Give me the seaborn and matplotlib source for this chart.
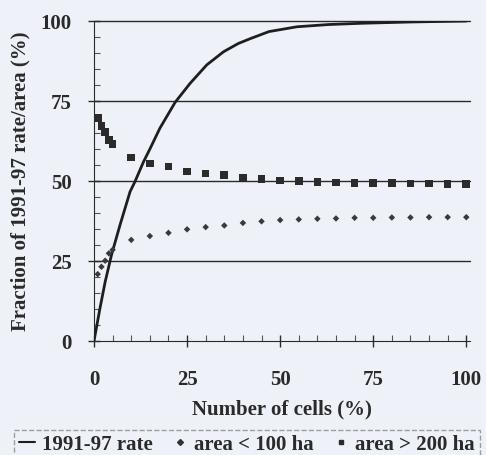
import numpy as np
import pandas as pd
import matplotlib
matplotlib.use("Agg")
import matplotlib.pyplot as plt
from matplotlib.lines import Line2D
from matplotlib.ticker import MultipleLocator
import seaborn as sns

# 1991-97 rate curve
rate_x = [0, 1.6, 3, 4.7, 7, 9.7, 11, 13.3, 15.1, 17.7, 21.8, 25.8, 30.3, 34.8, 38.8,
          42, 47, 54.5, 63, 72, 85, 100]
rate_y = [0, 10.2, 18.5, 26.9, 36.3, 46.7, 49.8, 56, 60.2, 66.5, 74.6, 80.5, 86.3, 90.4, 93,
          94.5, 96.7, 98.2, 98.9, 99.3, 99.7, 100]

# point series
pts_x = [1, 2, 3, 4, 5, 10, 15, 20, 25, 30, 35, 40, 45, 50, 55, 60, 65, 70, 75, 80, 85, 90, 95, 100]
small_area = [20.9, 23.2, 25.1, 27.4, 28.5, 31.6, 32.8, 33.8, 34.9, 35.6, 36.1, 36.9, 37.4,
              37.8, 38.0, 38.2, 38.3, 38.5, 38.5, 38.6, 38.6, 38.7, 38.7, 38.7]
large_area = [69.7, 67.2, 65.4, 62.8, 61.6, 57.4, 55.5, 54.5, 53.0, 52.4, 51.8, 51.1, 50.7,
              50.2, 50.0, 49.7, 49.5, 49.4, 49.4, 49.4, 49.2, 49.2, 49.1, 49.1]

sns.set_style("ticks")
plt.rcParams['font.family'] = ['Liberation Serif', 'DejaVu Serif']
plt.rcParams['font.weight'] = 'bold'

bg = '#eef2f8'
ink = '#2a2a2a'
fig = plt.figure(figsize=(4.86, 4.55), dpi=100, facecolor=bg)
ax = fig.add_axes([0.1934, 0.2505, 0.7737, 0.7033])
ax.set_facecolor(bg)

for yv in [25, 50, 75, 100]:
    ax.axhline(yv, color=ink, lw=1.0, zorder=1, clip_on=False)

sns.lineplot(x=rate_x, y=rate_y, ax=ax, color='#1e1e1e', lw=2.0, zorder=3)
sns.scatterplot(x=pts_x, y=large_area, ax=ax, marker='s', s=30, color='#2b2b2b',
                edgecolor='none', zorder=4)
sns.scatterplot(x=pts_x, y=small_area, ax=ax, marker='D', s=11, color='#3a3a3a',
                edgecolor='none', zorder=4)

ax.set_xlim(0, 101)
ax.set_ylim(0, 100)
ax.set_xticks([0, 25, 50, 75, 100])
ax.set_yticks([0, 25, 50, 75, 100])
ax.xaxis.set_minor_locator(MultipleLocator(5))
ax.yaxis.set_minor_locator(MultipleLocator(5))
ax.tick_params(which='major', direction='inout', length=8, width=1, color=ink, labelsize=15)
ax.tick_params(axis='x', which='major', pad=17)
ax.tick_params(axis='y', which='major', pad=12)
ax.tick_params(which='minor', direction='in', length=4, width=0.8, color='#555555')
for lab in ax.get_xticklabels() + ax.get_yticklabels():
    lab.set_fontweight('bold')
    lab.set_color(ink)

sns.despine(ax=ax)
ax.spines['left'].set_color(ink)
ax.spines['bottom'].set_color(ink)

ax.set_xlabel('Number of cells (%)', fontsize=15, fontweight='bold', color=ink, labelpad=7)
ax.set_ylabel('Fraction of 1991-97 rate/area (%)', fontsize=15, fontweight='bold',
              color=ink, labelpad=7)

handles = [
    Line2D([], [], color='#1e1e1e', lw=1.5),
    Line2D([], [], color='#333333', marker='D', ls='none', markersize=3),
    Line2D([], [], color='#2b2b2b', marker='s', ls='none', markersize=3.5),
]
labels = ['1991-97 rate', 'area < 100 ha', 'area > 200 ha']
leg = fig.legend(handles, labels, loc='lower center', bbox_to_anchor=(0.508, -0.02), ncol=3,
                 frameon=True, fancybox=False, prop={'weight': 'bold', 'size': 15},
                 handlelength=0.8, handletextpad=0.3, columnspacing=0.9,
                 borderpad=0.25, borderaxespad=0.2, facecolor=bg, edgecolor='#888888')
leg.get_frame().set_linestyle('--')
for t in leg.get_texts():
    t.set_color(ink)

fig.savefig('out.png', dpi=100, facecolor=bg)
